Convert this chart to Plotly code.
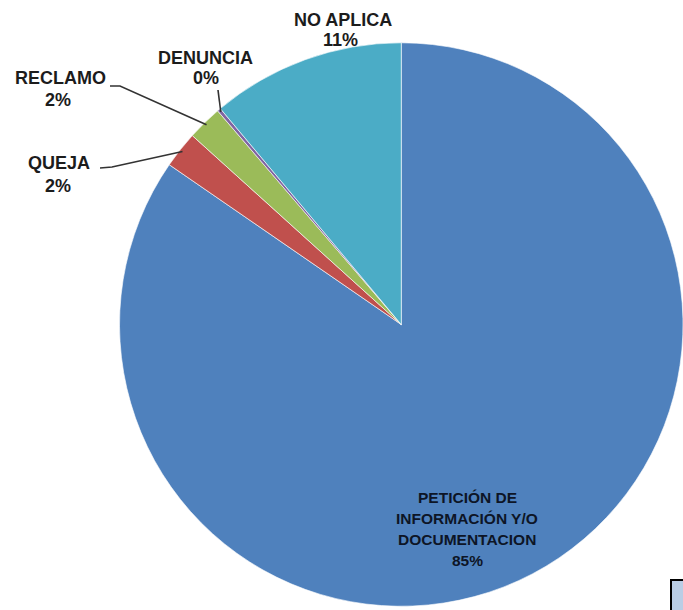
import math
import plotly.graph_objects as go

# ---- data ----
categories = ["PETICIÓN DE INFORMACIÓN Y/O DOCUMENTACION", "QUEJA", "RECLAMO", "DENUNCIA", "NO APLICA"]
values = [84.6, 2.1, 2.0, 0.2, 11.1]
colors = ["#4F81BD", "#C0504D", "#9BBB59", "#8064A2", "#4BACC6"]

W, H = 683, 610
# pie placement (paper domain)
dom_x = [0.175, 1.0]
dom_y = [0.006, 0.93]

fig = go.Figure(go.Pie(
    labels=categories,
    values=values,
    sort=False,
    direction="clockwise",
    rotation=0,
    marker=dict(colors=colors, line=dict(color="rgba(255,255,255,0.6)", width=1)),
    textinfo="none",
    hoverinfo="label+percent",
    showlegend=False,
    domain=dict(x=dom_x, y=dom_y),
))

# pie geometry in pixels (derived from domain, as plotly does)
dw = W * (dom_x[1] - dom_x[0])
dh = H * (dom_y[1] - dom_y[0])
R = min(dw, dh) / 2
cx = W * (dom_x[0] + dom_x[1]) / 2
cy = H - H * (dom_y[0] + dom_y[1]) / 2

total = sum(values)
mid_angles = []
acc = 0.0
for v in values:
    mid_angles.append((acc + v / 2) / total * 360.0)
    acc += v

def edge_point(i, frac=0.99):
    a = math.radians(mid_angles[i])
    return cx + R * frac * math.sin(a), cy - R * frac * math.cos(a)

def px(x):
    return x / W

def py(y):
    return 1 - y / H

pct = [f"{round(v / total * 100)}%" for v in values]

annotations = []

def add_text(text, x, y, size, color="#1c1c1c"):
    annotations.append(dict(
        text=f"<b>{text}</b>", x=px(x), y=py(y), xref="paper", yref="paper",
        xanchor="center", yanchor="middle", showarrow=False,
        font=dict(family="Liberation Sans, Arial, sans-serif", size=size, color=color),
    ))

# outer labels
add_text("NO APLICA", 343, 20, 18)
add_text(pct[4], 340, 40, 18)
add_text("DENUNCIA", 205, 58, 18)
add_text(pct[3], 206, 78, 18)
add_text("RECLAMO", 60, 78, 18)
add_text(pct[2], 58, 100, 18)
add_text("QUEJA", 59, 163, 18)
add_text(pct[1], 58, 186, 18)

# big inside label
big_lines = ["PETICIÓN DE", "INFORMACIÓN Y/O", "DOCUMENTACION", pct[0]]
for k, line in enumerate(big_lines):
    add_text(line, 467, 497 + k * 21.3, 15.5, color="#0d1526")

# leader lines
shapes = []
def leader(points):
    d = "M " + " L ".join(f"{px(x)},{py(y)}" for x, y in points)
    shapes.append(dict(type="path", path=d, xref="paper", yref="paper",
                       line=dict(color="#333333", width=1.6)))

leader([(110, 86), (120, 86), edge_point(2)])
leader([(100, 168), (112, 167), edge_point(1)])
leader([(218, 90), edge_point(3)])

# small box artefact at the bottom-right corner
shapes.append(dict(type="rect", xref="paper", yref="paper",
                   x0=px(671), x1=px(690), y0=py(616), y1=py(580),
                   fillcolor="#B9CDE5", line=dict(color="#000000", width=2)))

fig.update_layout(
    width=W, height=H,
    margin=dict(l=0, r=0, t=0, b=0),
    paper_bgcolor="white",
    plot_bgcolor="white",
    annotations=annotations,
    shapes=shapes,
)

fig.write_html("out.html", config={"displayModeBar": False},
               post_script="document.body.style.margin='0';document.body.style.overflow='hidden';")
